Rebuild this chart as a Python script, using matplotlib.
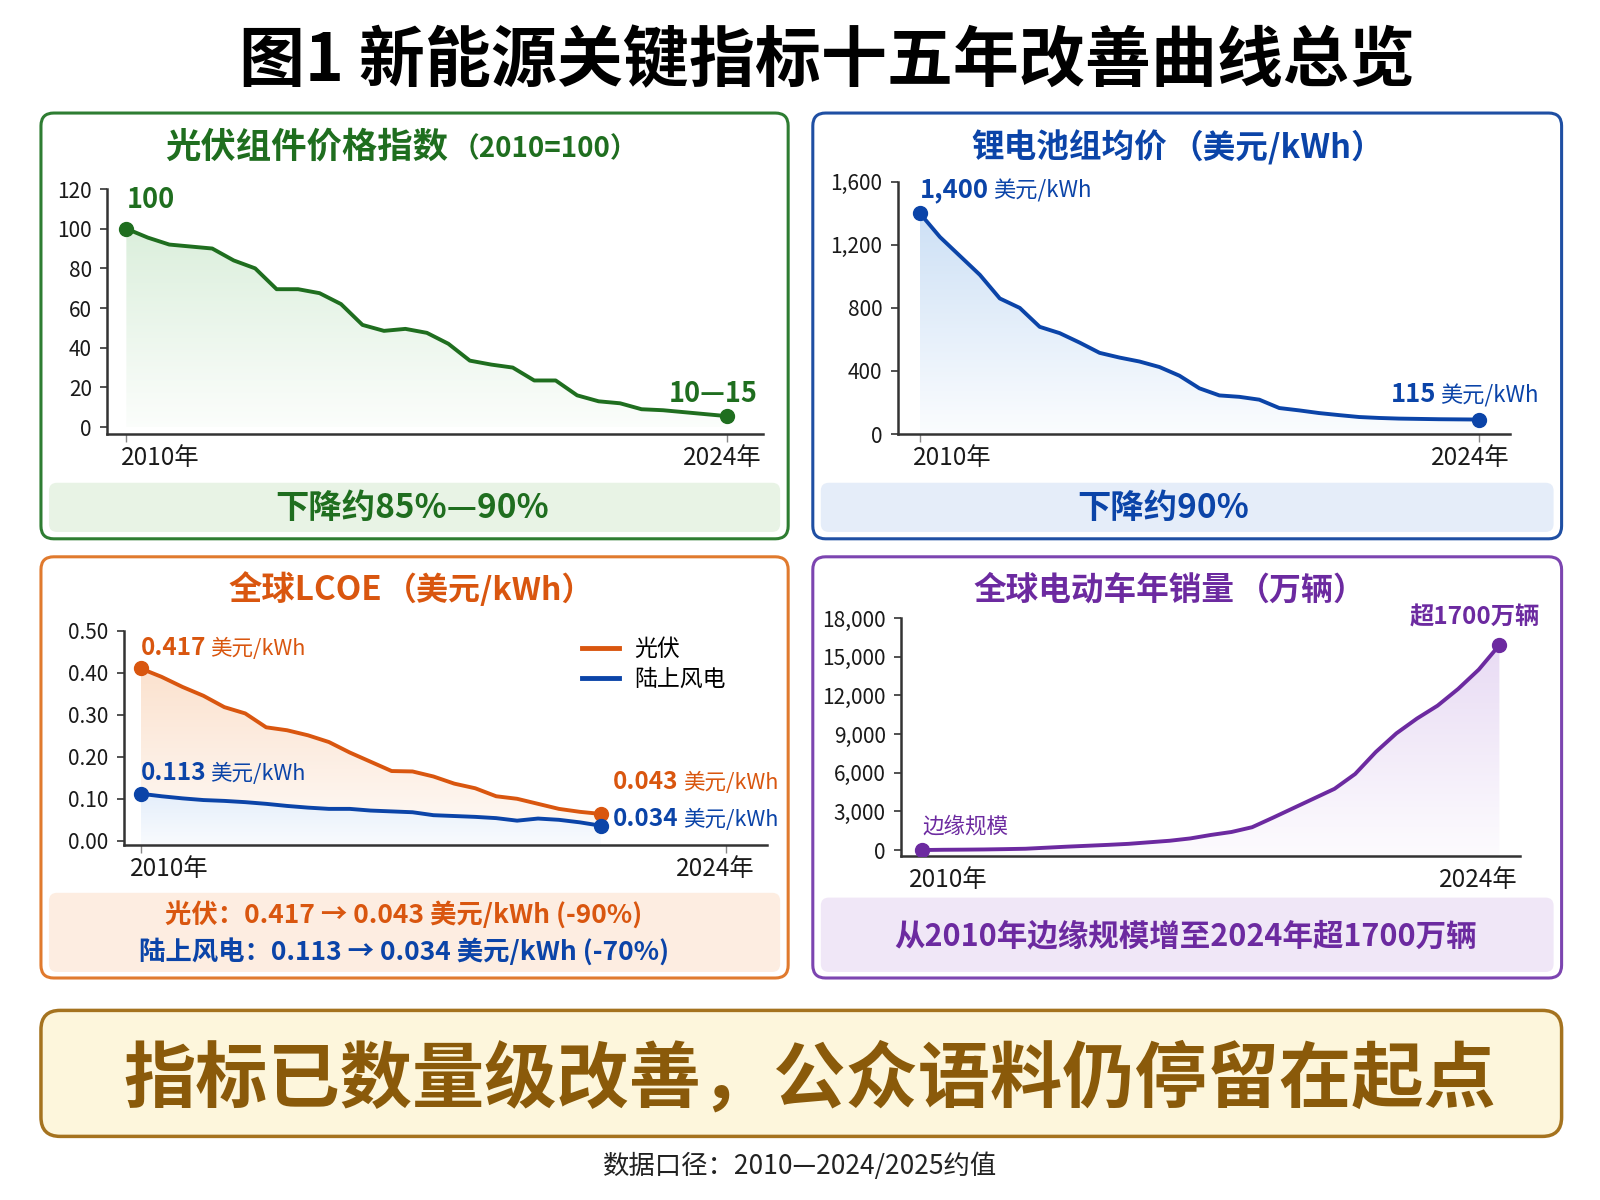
import numpy as np
import matplotlib
matplotlib.use("Agg")
import matplotlib.pyplot as plt
from matplotlib.patches import FancyBboxPatch, Polygon
from matplotlib.offsetbox import TextArea, HPacker, AnnotationBbox
from matplotlib.ticker import FuncFormatter
from matplotlib.colors import to_rgb

plt.rcParams['font.family'] = ['Noto Sans CJK SC', 'DejaVu Sans']

# ---- data (half-year steps) ----
years_half = [2010 + 0.5 * i for i in range(29)]
pv_module_index = [100, 95.5, 92, 91, 90, 84, 80, 69.5, 69.5, 67.5, 62, 51.5, 48.5, 49.5, 47.5,
                   42, 33.5, 31.5, 30, 23.5, 23.5, 16, 13, 12, 9, 8.5, 7.5, 6.5, 5.5]
battery_price = [1400, 1250, 1130, 1010, 860, 800, 680, 640, 580, 515, 485, 460, 425, 370, 290,
                 245, 236, 218, 165, 150, 133, 120, 108, 102, 98, 96, 94, 93, 92]
ev_sales = [0, 20, 30, 45, 70, 100, 180, 260, 330, 400, 480, 600, 720, 900, 1170,
            1400, 1770, 2500, 3250, 4000, 4750, 5900, 7600, 9050, 10200, 11200, 12500, 14000, 15900]

lcoe_years = [2010 + 0.5 * i for i in range(23)]
lcoe_pv = [0.41, 0.39, 0.366, 0.345, 0.318, 0.303, 0.270, 0.263, 0.251, 0.235, 0.210, 0.188,
           0.166, 0.165, 0.153, 0.136, 0.125, 0.106, 0.100, 0.088, 0.076, 0.069, 0.064]
lcoe_wind = [0.112, 0.106, 0.101, 0.097, 0.095, 0.092, 0.088, 0.083, 0.079, 0.076, 0.076, 0.072,
             0.070, 0.068, 0.061, 0.059, 0.057, 0.054, 0.048, 0.053, 0.050, 0.044, 0.036]

GREEN = '#1f6e1f'
BLUE = '#0b44a8'
ORANGE = '#d9560f'
PURPLE = '#6c2aa0'
BROWN = '#8a5a0a'
INK = '#1a1a1a'

fig = plt.figure(figsize=(16, 12), dpi=100)
ASP = 16 / 12


def rbox(x, y, w, h, fc, ec, lw=2.2, r=0.008):
    p = FancyBboxPatch((x, y), w, h, boxstyle=f"round,pad=0,rounding_size={r}",
                       mutation_aspect=ASP, transform=fig.transFigure,
                       fc=fc, ec=ec, lw=lw, zorder=0)
    fig.add_artist(p)


def packed(parts, sep=3):
    areas = [TextArea(t, textprops=dict(color=c, fontsize=s, fontweight=w)) for t, c, s, w in parts]
    return HPacker(children=areas, align='baseline', pad=0, sep=sep)


def fig_title(x, y, parts):
    ab = AnnotationBbox(packed(parts, sep=2), (x, y), xycoords='figure fraction',
                        box_alignment=(0.5, 0.5), frameon=False)
    fig.add_artist(ab)


def point_label(ax, xy, parts, off, align):
    ab = AnnotationBbox(packed(parts), xy, xybox=off, xycoords='data',
                        boxcoords='offset points', box_alignment=align, frameon=False,
                        zorder=6)
    ax.add_artist(ab)


def grad_fill(ax, x, y, color, lo, top_mix=0.22, bot_mix=0.03):
    x = np.asarray(x, float)
    y = np.asarray(y, float)
    lo = np.broadcast_to(np.asarray(lo, float), x.shape)
    rgb = np.array(to_rgb(color))
    t = np.linspace(top_mix, bot_mix, 200)[:, None]
    img = np.ones((200, 1, 3)) * (1 - t[..., None]) + rgb * t[..., None]
    im = ax.imshow(img, extent=[x.min(), x.max(), lo.min(), y.max()], aspect='auto',
                   origin='upper', zorder=1, interpolation='bilinear')
    verts = np.vstack([np.column_stack([x, y]), np.column_stack([x[::-1], lo[::-1]])])
    poly = Polygon(verts, closed=True, fc='none', ec='none')
    ax.add_patch(poly)
    im.set_clip_path(poly)


def style_axes(ax, xlim, ylim, yticks, fmt, xlabels, tick_x=True):
    ax.set_xlim(*xlim)
    ax.set_ylim(*ylim)
    ax.set_yticks(yticks)
    ax.yaxis.set_major_formatter(FuncFormatter(fmt))
    for s in ['top', 'right']:
        ax.spines[s].set_visible(False)
    for s in ['left', 'bottom']:
        ax.spines[s].set_color('#333333')
        ax.spines[s].set_linewidth(1.8)
    ax.spines['left'].set_bounds(ylim[0], yticks[-1])
    ax.tick_params(axis='y', labelsize=15, colors='#333333', labelcolor=INK, length=5, width=1.2, pad=6)
    for lbl in ax.get_yticklabels():
        lbl.set_fontweight('medium')
    ax.set_xticks([2010, 2024] if tick_x else [])
    ax.set_xticklabels([])
    ax.tick_params(axis='x', colors='#888888', length=6, width=1.0)
    ax.set_facecolor('none')
    for (yr, dx, ha) in xlabels:
        ax.annotate(f"{yr}年", xy=(yr, 0), xycoords=ax.get_xaxis_transform(),
                    xytext=(dx, -8), textcoords='offset points', ha=ha, va='top',
                    fontsize=17.5, color=INK, fontweight='medium')


# ---- page title ----
fig.text(0.517, 0.949, "图1 新能源关键指标十五年改善曲线总览", ha='center', va='center',
         fontsize=47.5, fontweight='heavy', color='#000000')

# ---- panel frames ----
rbox(0.0256, 0.551, 0.467, 0.3548, 'white', '#2e7d32')
rbox(0.508, 0.551, 0.468, 0.3548, 'white', '#1f4fa3')
rbox(0.0256, 0.185, 0.467, 0.351, 'white', '#e07a2e')
rbox(0.508, 0.185, 0.468, 0.351, 'white', '#7c45b0')

# bottom bands inside panels
rbox(0.0306, 0.5567, 0.457, 0.041, '#e8f3e5', 'none', lw=0, r=0.005)
rbox(0.513, 0.5567, 0.458, 0.041, '#e5edf9', 'none', lw=0, r=0.005)
rbox(0.0306, 0.19, 0.457, 0.066, '#fdede1', 'none', lw=0, r=0.005)
rbox(0.513, 0.19, 0.458, 0.062, '#f0e7f7', 'none', lw=0, r=0.005)

# ---- panel titles ----
fig_title(0.251, 0.8775, [("光伏组件价格指数", GREEN, 25.5, 'bold'), ("（2010=100）", GREEN, 20, 'bold')])
fig_title(0.736, 0.8775, [("锂电池组均价", BLUE, 23.5, 'bold'), ("（美元/kWh）", BLUE, 23.5, 'bold')])
fig_title(0.257, 0.5083, [("全球LCOE", ORANGE, 24, 'bold'), ("（美元/kWh）", ORANGE, 23, 'bold')])
fig_title(0.731, 0.5083, [("全球电动车年销量", PURPLE, 23.5, 'bold'), ("（万辆）", PURPLE, 23, 'bold')])

# ---- panel 1: PV module price index ----
ax1 = fig.add_axes([0.0669, 0.6383, 0.410, 0.2042])
grad_fill(ax1, years_half, pv_module_index, '#4caf50', 0, top_mix=0.2, bot_mix=0.02)
ax1.plot(years_half, pv_module_index, color=GREEN, lw=2.8, zorder=3, solid_joinstyle='round')
ax1.plot([years_half[0], years_half[-1]], [pv_module_index[0], pv_module_index[-1]], 'o',
         color=GREEN, ms=10, zorder=4)
style_axes(ax1, (2009.55, 2024.83), (-3.5, 120), [0, 20, 40, 60, 80, 100, 120],
           lambda v, p: f"{v:.0f}", [(2010, -4, 'left'), (2024, -4, 'center')])
point_label(ax1, (years_half[0], pv_module_index[0]), [("100", GREEN, 19.5, 'bold')], (0, 21), (0, 0.5))
point_label(ax1, (years_half[-1], pv_module_index[-1]), [("10—15", GREEN, 19.5, 'bold')], (22, 16), (1, 0.5))
fig.text(0.2575, 0.5767, "下降约85%—90%", ha='center', va='center', fontsize=24,
         fontweight='bold', color=GREEN)

# ---- panel 2: battery pack price ----
ax2 = fig.add_axes([0.561, 0.6383, 0.383, 0.2102])
grad_fill(ax2, years_half, battery_price, '#2f7fd8', 0, top_mix=0.24, bot_mix=0.02)
ax2.plot(years_half, battery_price, color=BLUE, lw=2.8, zorder=3, solid_joinstyle='round')
ax2.plot([years_half[0], years_half[-1]], [battery_price[0], battery_price[-1]], 'o',
         color=BLUE, ms=10, zorder=4)
style_axes(ax2, (2009.44, 2024.79), (0, 1600), [0, 400, 800, 1200, 1600],
           lambda v, p: f"{v:,.0f}", [(2010, -5, 'left'), (2024, -6, 'center')])
point_label(ax2, (years_half[0], battery_price[0]),
            [("1,400", BLUE, 18.5, 'bold'), ("美元/kWh", BLUE, 16, 'medium')], (0, 17), (0, 0.5))
point_label(ax2, (years_half[-1], battery_price[-1]),
            [("115", BLUE, 18.5, 'bold'), ("美元/kWh", BLUE, 16, 'medium')], (43, 18), (1, 0.5))
fig.text(0.727, 0.5767, "下降约90%", ha='center', va='center', fontsize=24,
         fontweight='bold', color=BLUE)

# ---- panel 3: LCOE ----
ax3 = fig.add_axes([0.0772, 0.2958, 0.4023, 0.1787])
grad_fill(ax3, lcoe_years, lcoe_pv, '#f08a3c', lcoe_wind, top_mix=0.25, bot_mix=0.06)
grad_fill(ax3, lcoe_years, lcoe_wind, '#3d85e0', -0.01, top_mix=0.14, bot_mix=0.03)
ax3.plot(lcoe_years, lcoe_pv, color=ORANGE, lw=2.8, zorder=3, label='光伏')
ax3.plot(lcoe_years, lcoe_wind, color=BLUE, lw=2.8, zorder=3, label='陆上风电')
for ser, c in [(lcoe_pv, ORANGE), (lcoe_wind, BLUE)]:
    ax3.plot([lcoe_years[0], lcoe_years[-1]], [ser[0], ser[-1]], 'o', color=c, ms=10, zorder=4)
style_axes(ax3, (2009.59, 2024.98), (-0.01, 0.5), [0, 0.1, 0.2, 0.3, 0.4, 0.5],
           lambda v, p: f"{v:.2f}", [(2010, -8, 'left'), (2024, -8, 'center')])
leg = ax3.legend(loc='upper left', bbox_to_anchor=(0.68, 1.06), frameon=False, fontsize=16.5,
                 handlelength=1.6, handletextpad=0.7, labelspacing=0.3)
for h in leg.get_lines():
    h.set_linewidth(3.5)
point_label(ax3, (lcoe_years[0], lcoe_pv[0]),
            [("0.417", ORANGE, 17.5, 'bold'), ("美元/kWh", ORANGE, 15.5, 'medium')], (0, 15), (0, 0.5))
point_label(ax3, (lcoe_years[0], lcoe_wind[0]),
            [("0.113", BLUE, 17.5, 'bold'), ("美元/kWh", BLUE, 15.5, 'medium')], (0, 15), (0, 0.5))
point_label(ax3, (lcoe_years[-1], lcoe_pv[-1]),
            [("0.043", ORANGE, 17.5, 'bold'), ("美元/kWh", ORANGE, 15.5, 'medium')], (9, 23), (0, 0.5))
point_label(ax3, (lcoe_years[-1], lcoe_wind[-1]),
            [("0.034", BLUE, 17.5, 'bold'), ("美元/kWh", BLUE, 15.5, 'medium')], (9, 5), (0, 0.5))
fig.text(0.2525, 0.2375, "光伏：0.417 → 0.043 美元/kWh (-90%)", ha='center', va='center',
         fontsize=19, fontweight='bold', color=ORANGE)
fig.text(0.2525, 0.2067, "陆上风电：0.113 → 0.034 美元/kWh (-70%)", ha='center', va='center',
         fontsize=19, fontweight='bold', color=BLUE)

# ---- panel 4: EV sales ----
ax4 = fig.add_axes([0.5631, 0.2867, 0.3869, 0.1983])
grad_fill(ax4, years_half, ev_sales, '#8e4cc8', -460, top_mix=0.2, bot_mix=0.02)
ax4.plot(years_half, ev_sales, color=PURPLE, lw=2.8, zorder=3)
ax4.plot([years_half[0], years_half[-1]], [ev_sales[0], ev_sales[-1]], 'o',
         color=PURPLE, ms=10, zorder=4)
style_axes(ax4, (2009.48, 2024.5), (-460, 18000), [0, 3000, 6000, 9000, 12000, 15000, 18000],
           lambda v, p: f"{v:,.0f}", [(2010, -10, 'left'), (2024, -15, 'center')], tick_x=False)
point_label(ax4, (years_half[0], ev_sales[0]), [("边缘规模", PURPLE, 15.5, 'medium')], (0, 17), (0, 0.5))
point_label(ax4, (years_half[-1], ev_sales[-1]), [("超1700万辆", PURPLE, 17.5, 'bold')], (29, 20), (1, 0.5))
fig.text(0.741, 0.22, "从2010年边缘规模增至2024年超1700万辆", ha='center', va='center',
         fontsize=22, fontweight='bold', color=PURPLE)

# ---- conclusion box ----
rbox(0.0256, 0.053, 0.9504, 0.105, '#fdf6dc', '#a5731f', lw=2.5, r=0.012)
fig.text(0.506, 0.1, "指标已数量级改善，公众语料仍停留在起点", ha='center', va='center',
         fontsize=52, fontweight='heavy', color=BROWN)

fig.text(0.5, 0.028, "数据口径：2010—2024/2025约值", ha='center', va='center',
         fontsize=19, fontweight='medium', color='#222222')

fig.savefig("out.png", dpi=100, facecolor='white')
